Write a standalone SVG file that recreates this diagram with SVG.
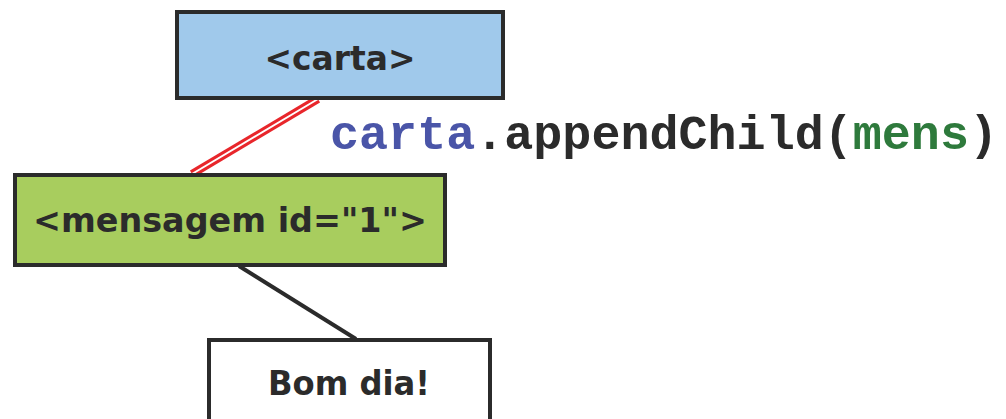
<svg xmlns="http://www.w3.org/2000/svg" width="1006" height="419" viewBox="0 0 1006 419">
<style>
.box{stroke:#2b2b2b;stroke-width:4}
.lbl{font-family:"DejaVu Sans",Verdana,sans-serif;font-weight:bold;font-size:33px;fill:#2b2b2b;text-anchor:middle}
.code{font-family:"Liberation Mono","Courier New",monospace;font-weight:bold;font-size:48px;fill:#2b2b2b}
</style>
<rect width="1006" height="419" fill="#ffffff"/>
<g id="connectors">
<line x1="318" y1="99" x2="192" y2="174" stroke="#e8262b" stroke-width="8"/>
<line x1="318" y1="99" x2="192" y2="174" stroke="#ffffff" stroke-width="2"/>
<line x1="239" y1="266" x2="356" y2="339" stroke="#2b2b2b" stroke-width="4"/>
</g>
<g id="carta">
<rect class="box" x="177" y="12" width="326" height="86" fill="#a0c9eb"/>
<text class="lbl" x="340" y="70" textLength="151" lengthAdjust="spacingAndGlyphs">&lt;carta&gt;</text>
</g>
<g id="mensagem">
<rect class="box" x="15" y="175" width="430" height="90" fill="#a8cd5e"/>
<text class="lbl" x="230" y="232" textLength="394" lengthAdjust="spacingAndGlyphs">&lt;mensagem id="1"&gt;</text>
</g>
<g id="bomdia">
<rect class="box" x="209" y="340" width="281" height="90" fill="#ffffff"/>
<text class="lbl" x="349" y="395" textLength="162" lengthAdjust="spacingAndGlyphs">Bom dia!</text>
</g>
<g id="code">
<text class="code" x="330" y="149" textLength="668" lengthAdjust="spacingAndGlyphs"><tspan fill="#4a55a8">carta</tspan>.appendChild(<tspan fill="#2e7a3c">mens</tspan>)</text>
</g>
</svg>
